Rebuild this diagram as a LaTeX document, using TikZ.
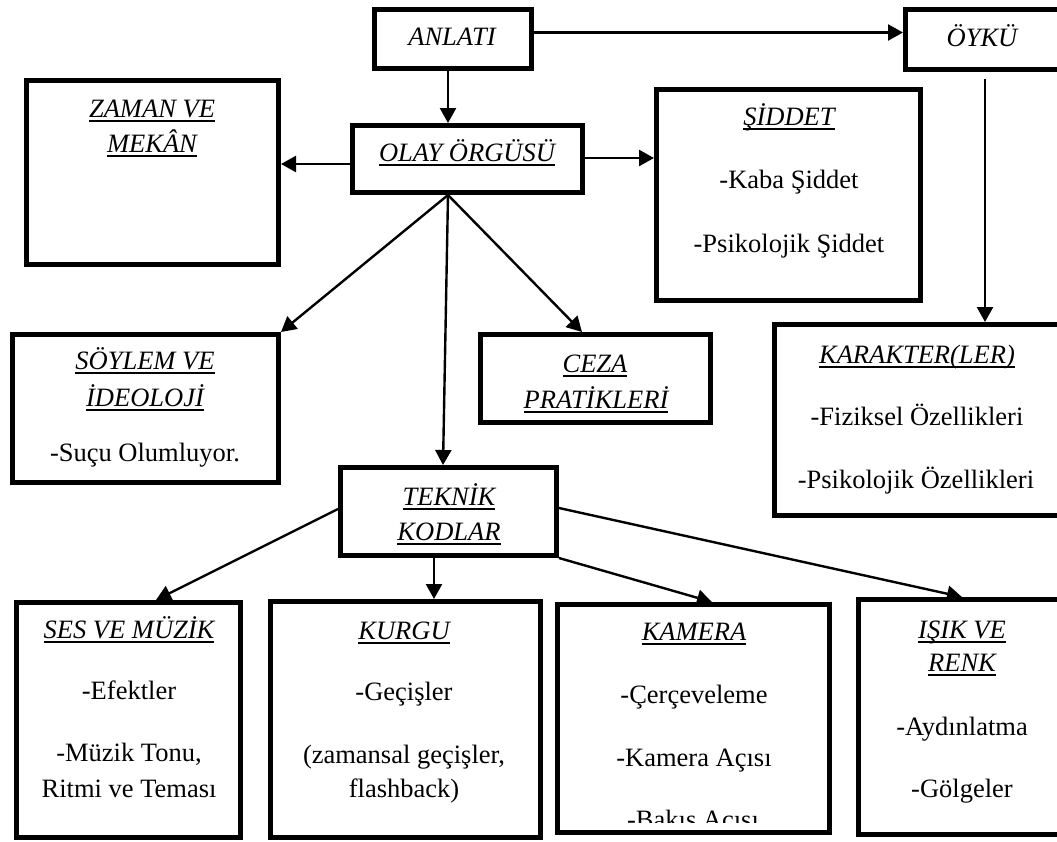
\documentclass[tikz,border=0pt]{standalone}
\usepackage{fontspec}
\setmainfont{Liberation Serif}
\usetikzlibrary{arrows.meta}
\newcommand\myul[1]{\setbox0\hbox{#1}\rlap{\rule[-5pt]{\wd0}{1.8pt}}\box0}
\newcommand\hd[1]{\myul{\itshape #1}}
\begin{document}
\begin{tikzpicture}[x=1pt,y=-1pt,
  font=\fontsize{26.5}{30}\selectfont,
  box/.style={draw, line width=5pt, inner sep=0pt, outer sep=2.5pt},
  tx/.style={anchor=base, inner sep=0pt, outer sep=0pt},
  arr/.style={line width=2.4pt, -{Triangle[length=15pt,width=16pt]}}]
\useasboundingbox (0,0) rectangle (1057,841);
\fill[white] (0,0) rectangle (1057,841);
\clip (0,0) rectangle (1057,841);
% boxes
\node[box, minimum width=157pt, minimum height=59pt] (anlati) at (453,39) {};
\node[box, minimum width=157pt, minimum height=60pt] (oyku) at (984,39.5) {};
\node[box, minimum width=252pt, minimum height=184pt] (zaman) at (152.5,172.5) {};
\node[box, minimum width=230pt, minimum height=67pt] (olay) at (467.5,159) {};
\node[box, minimum width=264pt, minimum height=211pt] (siddet) at (788.5,195) {};
\node[box, minimum width=266pt, minimum height=148pt] (soylem) at (145.5,408.5) {};
\node[box, minimum width=230pt, minimum height=88pt] (ceza) at (595.5,378.5) {};
\node[box, minimum width=216pt, minimum height=88pt] (teknik) at (448.5,511.5) {};
\node[box, minimum width=288pt, minimum height=191pt] (karakter) at (918.5,420) {};
\node[box, minimum width=224pt, minimum height=235pt] (ses) at (128.5,720) {};
\node[box, minimum width=270pt, minimum height=236pt] (kurgu) at (405.5,719.5) {};
\node[box, minimum width=272pt, minimum height=228pt] (kamera) at (693.5,718.5) {};
\node[box, minimum width=204pt, minimum height=235pt] (isik) at (960.5,717) {};
% texts
\node[tx] (t1) at (452,45) {\itshape ANLATI};
\node[tx] (t2) at (982,46) {\itshape ÖYKÜ};
\node[tx] (t3) at (152,117) {\hd{ZAMAN VE}};
\node[tx] (t4) at (152,152) {\hd{MEKÂN}};
\node[tx] (t5) at (467,161) {\hd{OLAY ÖRGÜSÜ}};
\node[tx] (t6) at (789,125) {\hd{ŞİDDET}};
\node[tx] (t7) at (789,188) {-Kaba Şiddet};
\node[tx] (t8) at (789,252) {-Psikolojik Şiddet};
\node[tx] (t9) at (145,369) {\hd{SÖYLEM VE}};
\node[tx] (t10) at (145,406) {\hd{İDEOLOJİ}};
\node[tx] (t11) at (145,461) {-Suçu Olumluyor.};
\node[tx] (t12) at (595,372) {\hd{CEZA}};
\node[tx] (t13) at (596,408) {\hd{PRATİKLERİ}};
\node[tx] (t14) at (449,505) {\hd{TEKNİK}};
\node[tx] (t15) at (449,540) {\hd{KODLAR}};
\node[tx] (t16) at (917,363) {\hd{KARAKTER(LER)}};
\node[tx] (t17) at (917,425) {-Fiziksel Özellikleri};
\node[tx] (t18) at (916,488) {-Psikolojik Özellikleri};
\node[tx] (t19) at (129,638) {\hd{SES VE MÜZİK}};
\node[tx] (t20) at (129,699) {-Efektler};
\node[tx] (t21) at (129,761) {-Müzik Tonu,};
\node[tx] (t22) at (129,797) {Ritmi ve Teması};
\node[tx] (t23) at (404,639) {\hd{KURGU}};
\node[tx] (t24) at (404,700) {-Geçişler};
\node[tx] (t25) at (404,763) {(zamansal geçişler,};
\node[tx] (t26) at (404,797) {flashback)};
\node[tx] (t27) at (694,640) {\hd{KAMERA}};
\node[tx] (t28) at (694,703) {-Çerçeveleme};
\node[tx] (t29) at (694,766) {-Kamera Açısı};
\begin{scope}
\clip (560,600) rectangle (828,822);
\node[tx] (t30) at (693,828) {-Bakış Açısı};
\end{scope}
\node[tx] (t31) at (962,638) {\hd{IŞIK VE}};
\node[tx] (t32) at (962,671) {\hd{RENK}};
\node[tx] (t33) at (962,735) {-Aydınlatma};
\node[tx] (t34) at (962,797) {-Gölgeler};
% connectors
\draw[arr] ([xshift=-5pt]anlati.south) -- ([xshift=-19.5pt]olay.north);
\draw[arr] ([yshift=6.5pt]anlati.east) -- ([yshift=7pt]oyku.west);
\draw[arr, shorten <=7pt] ([xshift=1pt]oyku.south) -- ([xshift=66.5pt]karakter.north);
\draw[arr] ([yshift=-5pt]olay.west) -- ([yshift=8.5pt]zaman.east);
\draw[arr] ([yshift=1pt]olay.east) -- ([yshift=37pt]siddet.west);
\coordinate (ob) at ([xshift=-19.5pt]olay.south);
\draw[arr] (ob) -- (soylem.north east);
\draw[arr] (ob) -- ([xshift=-5.5pt]teknik.north);
\draw[arr] (ob) -- ([xshift=-13.5pt]ceza.north);
\draw[arr] ([yshift=2.5pt]teknik.west) -- ([xshift=27.5pt]ses.north);
\draw[arr] ([xshift=-14.5pt]teknik.south) -- ([xshift=28.5pt]kurgu.north);
\draw[arr] (teknik.south east) -- ([xshift=18.5pt]kamera.north);
\draw[arr] ([yshift=3.5pt]teknik.east) -- ([xshift=1.5pt]isik.north);
\end{tikzpicture}
\end{document}
